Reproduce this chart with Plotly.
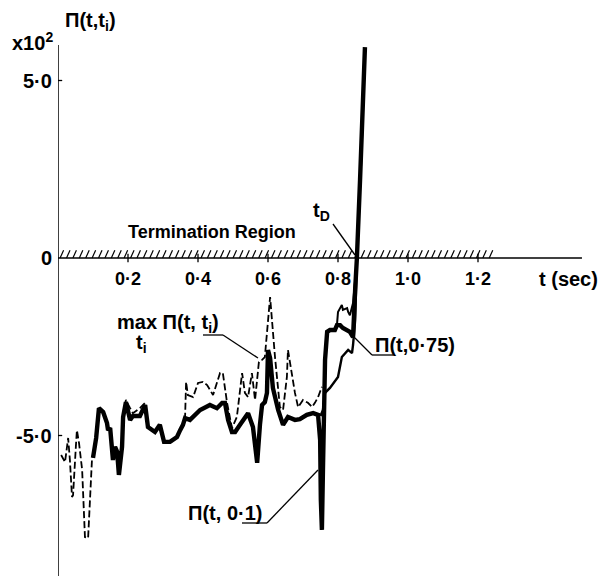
import numpy as np
import plotly.graph_objects as go

# ---------------- data (t in seconds, Π in units of 10^2) ----------------
t_max = [0.009, 0.020, 0.029, 0.034, 0.040, 0.043, 0.051, 0.054, 0.060, 0.069, 0.077, 0.086,
         0.097, 0.106, 0.117, 0.129, 0.140, 0.143, 0.149, 0.157, 0.163, 0.169, 0.174, 0.183,
         0.186, 0.194, 0.206, 0.214, 0.234, 0.249, 0.257, 0.277, 0.291, 0.303, 0.320, 0.340,
         0.349, 0.357, 0.363, 0.366, 0.371, 0.386, 0.400, 0.414, 0.426, 0.443, 0.463, 0.471,
         0.483, 0.497, 0.511, 0.526, 0.534, 0.543, 0.554, 0.563, 0.574, 0.583, 0.591, 0.606,
         0.620, 0.634, 0.643, 0.654, 0.657, 0.669, 0.677, 0.686, 0.700, 0.714, 0.726, 0.734,
         0.743, 0.754]
v_max = [-5.55, -5.75, -5.07, -5.69, -6.73, -6.68, -5.32, -4.85, -5.21, -5.97, -7.86, -7.89,
         -5.69, -5.21, -4.23, -4.34, -4.65, -4.85, -4.79, -5.69, -5.32, -5.46, -6.11, -5.32,
         -4.48, -4.00, -4.23, -4.37, -4.23, -4.08, -4.76, -4.90, -4.70, -5.18, -5.18, -5.04,
         -4.85, -4.70, -4.51, -3.49, -3.86, -3.92, -3.52, -3.49, -3.58, -3.86, -3.24, -3.24,
         -4.08, -4.79, -4.48, -3.24, -3.80, -3.92, -3.24, -4.00, -2.93, -2.87, -2.79, -1.10,
         -2.79, -4.20, -4.28, -3.35, -2.59, -3.35, -3.80, -4.20, -4.00, -4.08, -4.20, -4.08,
         -3.92, -3.63]

# upper envelope just before divergence
t_max_end = [0.797, 0.800, 0.811, 0.814, 0.826, 0.829, 0.834, 0.843, 0.849]
v_max_end = [-1.89, -1.52, -1.32, -1.46, -1.41, -1.52, -1.61, -1.27, -0.62]

t_p01 = [0.100, 0.109, 0.117, 0.129, 0.140, 0.143, 0.149, 0.157, 0.163, 0.169, 0.174, 0.183,
         0.186, 0.194, 0.206, 0.214, 0.234, 0.249, 0.257, 0.277, 0.291, 0.303, 0.320, 0.340,
         0.349, 0.357, 0.363, 0.377, 0.406, 0.434, 0.454, 0.469, 0.477, 0.486, 0.497, 0.506,
         0.520, 0.543, 0.557, 0.569, 0.577, 0.583, 0.591, 0.597, 0.600, 0.606, 0.614, 0.629,
         0.643, 0.657, 0.677, 0.691, 0.711, 0.729, 0.743, 0.749, 0.751, 0.754, 0.757, 0.760,
         0.763, 0.769, 0.777, 0.791, 0.797, 0.806, 0.814, 0.834, 0.843, 0.849, 0.854, 0.863,
         0.871, 0.877]
v_p01 = [-5.63, -5.07, -4.23, -4.34, -4.65, -4.85, -4.79, -5.69, -5.32, -5.46, -6.11, -5.32,
         -4.48, -4.06, -4.56, -4.45, -4.45, -4.14, -4.76, -4.90, -4.70, -5.18, -5.18, -5.04,
         -4.85, -4.70, -4.51, -4.56, -4.28, -4.14, -4.23, -4.08, -4.08, -4.56, -4.90, -4.90,
         -4.70, -4.37, -4.76, -5.77, -4.70, -4.14, -4.06, -3.80, -2.59, -2.82, -3.66, -4.28,
         -4.70, -4.48, -4.56, -4.54, -4.42, -4.37, -4.42, -5.13, -6.82, -7.66, -5.97, -4.00,
         -2.87, -2.08, -2.03, -2.03, -1.89, -1.89, -1.97, -2.08, -2.23, -0.90, 0.00, 2.20,
         4.45, 5.94]

t_p075 = [0.750, 0.757, 0.763, 0.777, 0.800, 0.811, 0.829, 0.840, 0.843, 0.849, 0.854, 0.866, 0.877]
v_p075 = [-4.45, -4.28, -3.80, -3.66, -3.35, -2.79, -2.59, -2.68, -2.45, -1.75, 0.00, 2.76, 5.86]

x_tick_vals = [0.2, 0.4, 0.6, 0.8, 1.0, 1.2]
x_tick_text = ["0·2", "0·4", "0·6", "0·8", "1·0", "1·2"]
y_tick_vals = [5.0, 0.0, -5.0]
y_tick_text = ["5·0", "0", "-5·0"]

t_hatch_end = 1.25
t_axis_end = 1.497

# ---------------- layout geometry ----------------
W, H = 605, 576
ML = 58
PX_T = 350.0     # pixels per second
PX_V = 35.5      # pixels per unit
Y0 = 258         # pixel row of zero
x_range = [0, (W - ML) / PX_T]
y_range = [-(H - Y0) / PX_V, Y0 / PX_V]


def px(xp):
    return (xp - ML) / (W - ML)


def py(yp):
    return (H - yp) / H


def font(size):
    return dict(family="Liberation Sans", size=size, color="black", weight="bold")


fig = go.Figure()

fig.add_trace(go.Scatter(x=t_max, y=v_max, mode="lines",
                         line=dict(color="black", width=1.8, dash="7px,3px"), hoverinfo="skip"))
fig.add_trace(go.Scatter(x=t_max_end, y=v_max_end, mode="lines",
                         line=dict(color="black", width=2), hoverinfo="skip"))
fig.add_trace(go.Scatter(x=t_p075, y=v_p075, mode="lines",
                         line=dict(color="black", width=2.4), hoverinfo="skip"))
fig.add_trace(go.Scatter(x=t_p01, y=v_p01, mode="lines",
                         line=dict(color="black", width=4.4), hoverinfo="skip"))

shapes = []
# axes
shapes.append(dict(type="line", xref="x", yref="paper", x0=0, x1=0, y0=0, y1=py(45),
                   line=dict(color="black", width=1.5)))
shapes.append(dict(type="line", xref="x", yref="y", x0=0, x1=t_axis_end, y0=0, y1=0,
                   line=dict(color="black", width=1.5)))
# hatching of termination region
step = 0.0183
for t0 in np.arange(0.006, t_hatch_end - 0.008, step):
    shapes.append(dict(type="line", xref="x", yref="y", x0=t0, y0=0.0, x1=t0 + 0.010, y1=0.22,
                       line=dict(color="black", width=1.2)))
# ticks
for tv in x_tick_vals:
    shapes.append(dict(type="line", xref="x", yref="y", x0=tv, x1=tv, y0=-0.12, y1=0.12,
                       line=dict(color="black", width=1.3)))
for yv in y_tick_vals:
    if yv != 0:
        shapes.append(dict(type="line", xref="x", yref="y", x0=0, x1=0.012, y0=yv, y1=yv,
                           line=dict(color="black", width=1.3)))


def leader(points):
    for (xa, ya), (xb, yb) in zip(points[:-1], points[1:]):
        shapes.append(dict(type="line", xref="paper", yref="paper",
                           x0=px(xa), y0=py(ya), x1=px(xb), y1=py(yb),
                           line=dict(color="black", width=1.3)))


leader([(333, 224), (355, 255)])
leader([(203, 335), (223, 335), (258, 358)])
leader([(352, 335), (372, 355), (393, 355)])
leader([(242, 523), (267, 523), (318, 470)])

ann = []
for tv, tt in zip(x_tick_vals, x_tick_text):
    ann.append(dict(x=tv, y=-21 / PX_V, xref="x", yref="y", text=tt, showarrow=False,
                    xanchor="center", yanchor="middle", font=font(18)))
for yv, tt in zip(y_tick_vals, y_tick_text):
    ann.append(dict(x=px(54), y=yv, xref="paper", yref="y", text=tt, showarrow=False,
                    xanchor="right", yanchor="middle", font=font(20)))


def label(text, xp, yp, xanchor="left", size=20):
    ann.append(dict(x=px(xp), y=py(yp), xref="paper", yref="paper", text=text, showarrow=False,
                    xanchor=xanchor, yanchor="middle", font=font(size)))


label("t (sec)", 537, 279, size=20)
label("Termination Region", 212, 232, xanchor="center", size=18)
label("t<sub>D</sub>", 311, 211)
label("max Π(t, t<sub>i</sub>)", 115, 323)
label("t<sub>i</sub>", 134, 343)
label("Π(t,0·75)", 373, 345)
label("Π(t, 0·1)", 186, 513)
label("Π(t,t<sub>i</sub>)", 63, 22)
label("x10<sup>2</sup>", 10, 41)

fig.update_layout(
    width=W, height=H,
    margin=dict(l=ML, r=0, t=0, b=0),
    paper_bgcolor="white", plot_bgcolor="white",
    showlegend=False,
    xaxis=dict(range=x_range, visible=False, fixedrange=True),
    yaxis=dict(range=y_range, visible=False, fixedrange=True),
    shapes=shapes,
    annotations=ann,
)

fig.write_html("out.html")
